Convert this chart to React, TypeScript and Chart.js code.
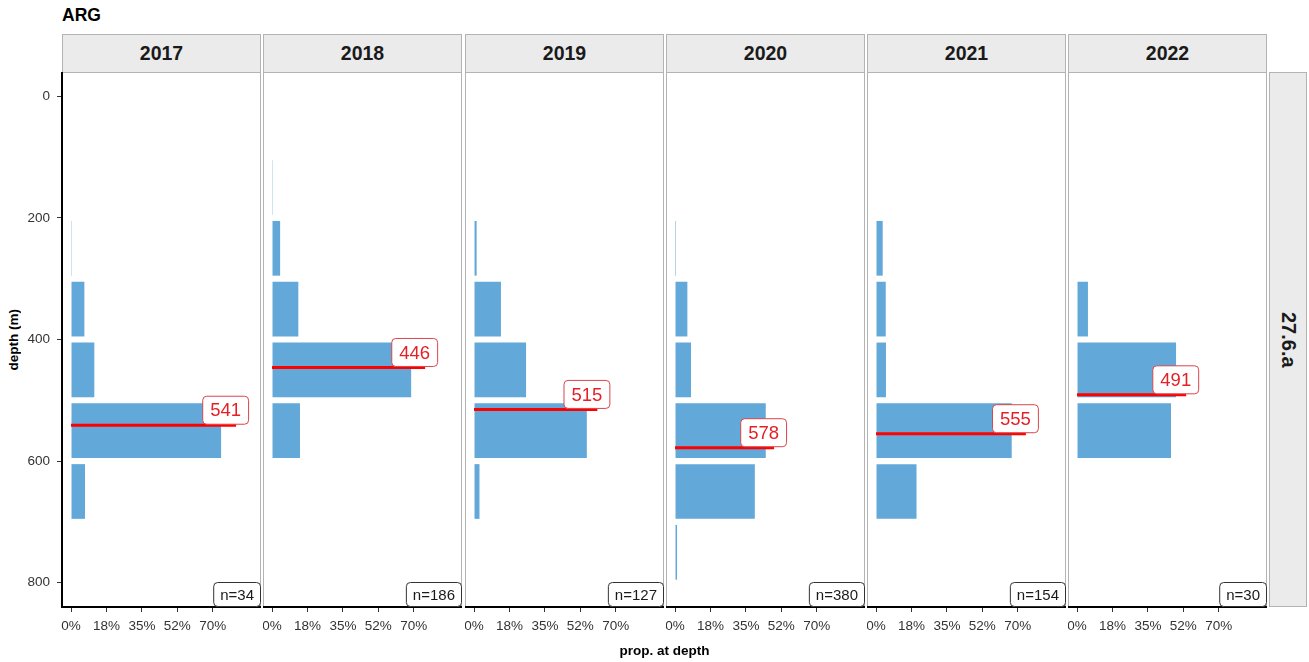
import React, { useEffect, useRef } from "react";
import { Chart, registerables } from "chart.js";

Chart.register(...registerables);

// ---------------- data ----------------
const countryLabel = "ARG";
const areaLabel = "27.6.a";
const years = ["2017", "2018", "2019", "2020", "2021", "2022"];
const depthBins = [150, 250, 350, 450, 550, 650, 750];
const prop2017 = [null, 0.004, 0.066, 0.115, 0.741, 0.069, null];
const prop2018 = [0.004, 0.04, 0.13, 0.687, 0.138, null, null];
const prop2019 = [null, 0.013, 0.133, 0.257, 0.557, 0.027, null];
const prop2020 = [null, 0.005, 0.061, 0.079, 0.448, 0.394, 0.01];
const prop2021 = [null, 0.033, 0.048, 0.049, 0.67, 0.2, null];
const prop2022 = [null, null, 0.054, 0.489, 0.464, null, null];
const meanDepth = [541, 446, 515, 578, 555, 491];
const meanLineEnd = [0.815, 0.756, 0.609, 0.489, 0.74, 0.539];
const sampleSize = [34, 186, 127, 380, 154, 30];
const xTickValues = [0, 0.175, 0.35, 0.525, 0.7];
const xTickLabels = ["0%", "18%", "35%", "52%", "70%"];
const yTickValues = [0, 200, 400, 600, 800];
const yTitle = "depth (m)";
const xTitle = "prop. at depth";

const propsByYear = [prop2017, prop2018, prop2019, prop2020, prop2021, prop2022];

// ---------------- style ----------------
const FONT = '"Liberation Sans", Arial, Helvetica, sans-serif';
const BAR_COLOR = "#62A8D8";
const PANEL_TOP = 72;
const PANEL_H = 535;
const PANEL_W = 199;
const CANVAS_H = 590;
const Y_AXIS_W = 62;

function roundRect(ctx: CanvasRenderingContext2D, x: number, y: number, w: number, h: number, r: number) {
  ctx.beginPath();
  ctx.moveTo(x + r, y);
  ctx.lineTo(x + w - r, y);
  ctx.arcTo(x + w, y, x + w, y + r, r);
  ctx.lineTo(x + w, y + h - r);
  ctx.arcTo(x + w, y + h, x + w - r, y + h, r);
  ctx.lineTo(x + r, y + h);
  ctx.arcTo(x, y + h, x, y + h - r, r);
  ctx.lineTo(x, y + r);
  ctx.arcTo(x, y, x + r, y, r);
  ctx.closePath();
}

function Panel({ index, left, withYAxis }: { index: number; left: number; withYAxis: boolean }) {
  const ref = useRef<HTMLCanvasElement>(null);
  const width = PANEL_W + (withYAxis ? Y_AXIS_W : 0);

  useEffect(() => {
    if (!ref.current) return;
    const props = propsByYear[index];
    const bars = depthBins
      .map((d, j) => (props[j] == null ? null : { x: props[j] as number, y: d }))
      .filter((p) => p !== null);

    const deco = {
      id: "panelDeco",
      beforeDraw(c: any) {
        const { ctx, chartArea: a } = c;
        ctx.save();
        ctx.strokeStyle = "#B3B3B3";
        ctx.lineWidth = 1;
        ctx.strokeRect(a.left + 0.5, a.top + 0.5, a.right - a.left - 1, a.bottom - a.top - 1);
        ctx.restore();
      },
      afterDatasetsDraw(c: any) {
        const { ctx, chartArea: a } = c;
        const meta = c.getDatasetMeta(0);
        const end = meta.data[meta.data.length - 1];
        ctx.save();
        // mean depth label
        ctx.font = `18.5px ${FONT}`;
        const txt = String(meanDepth[index]);
        const tw = ctx.measureText(txt).width;
        const w = tw + 15;
        const h = 28;
        const rx = end.x + 12 - w;
        const ry = end.y - 1.5 - h;
        roundRect(ctx, rx + 0.5, ry + 0.5, w, h, 4);
        ctx.fillStyle = "#FFFFFF";
        ctx.fill();
        ctx.strokeStyle = "#D9454A";
        ctx.lineWidth = 1;
        ctx.stroke();
        ctx.fillStyle = "#E41F26";
        ctx.textAlign = "center";
        ctx.textBaseline = "middle";
        ctx.fillText(txt, rx + w / 2 + 0.5, ry + h / 2 + 1.5);

        // n label
        ctx.font = `15px ${FONT}`;
        const nt = "n=" + sampleSize[index];
        const nw = ctx.measureText(nt).width + 13;
        const nh = 24;
        const nx = a.right - nw - 1;
        const ny = a.bottom - nh - 1;
        roundRect(ctx, nx + 0.5, ny + 0.5, nw, nh, 4);
        ctx.fillStyle = "#FFFFFF";
        ctx.fill();
        ctx.strokeStyle = "#333333";
        ctx.stroke();
        ctx.fillStyle = "#1A1A1A";
        ctx.fillText(nt, nx + nw / 2 + 0.5, ny + nh / 2 + 1.5);
        ctx.restore();
      },
    };

    const chart = new Chart(ref.current, {
      type: "bar",
      data: {
        datasets: [
          {
            type: "line",
            data: [
              { x: 0, y: meanDepth[index] },
              { x: meanLineEnd[index], y: meanDepth[index] },
            ],
            borderColor: "#FF0000",
            borderWidth: 3,
            pointRadius: 0,
            order: 0,
          } as any,
          {
            type: "bar",
            data: bars as any,
            backgroundColor: BAR_COLOR,
            borderWidth: 0,
            categoryPercentage: 1,
            barPercentage: 0.9,
            order: 1,
          } as any,
        ],
      },
      options: {
        indexAxis: "y",
        responsive: false,
        maintainAspectRatio: false,
        animation: false,
        layout: { padding: 0 },
        plugins: { legend: { display: false }, tooltip: { enabled: false }, title: { display: false } },
        scales: {
          x: {
            type: "linear",
            min: -0.0445,
            max: 0.938,
            offset: false,
            grid: {
              display: true,
              drawOnChartArea: false,
              drawTicks: true,
              tickLength: 5,
              tickColor: "#333333",
              tickWidth: 1,
            },
            border: { display: true, color: "#000000", width: 2 },
            ticks: {
              color: "#333333",
              font: { family: FONT, size: 13.5 },
              padding: 6,
              maxRotation: 0,
              autoSkip: false,
              callback: (v: any) => {
                const k = xTickValues.findIndex((t) => Math.abs(t - Number(v)) < 1e-9);
                return k >= 0 ? xTickLabels[k] : "";
              },
            },
            afterBuildTicks: (s: any) => {
              s.ticks = xTickValues.map((v) => ({ value: v }));
            },
            afterFit: (s: any) => {
              s.height = CANVAS_H - PANEL_H;
              s.paddingLeft = 0;
              s.paddingRight = 0;
            },
          },
          y: {
            type: "linear",
            reverse: true,
            min: -40,
            max: 840,
            offset: false,
            display: withYAxis,
            grid: {
              display: true,
              offset: false,
              drawOnChartArea: false,
              drawTicks: true,
              tickLength: 5,
              tickColor: "#333333",
              tickWidth: 1,
            },
            border: { display: true, color: "#000000", width: 2 },
            ticks: {
              color: "#333333",
              font: { family: FONT, size: 13.5 },
              padding: 7,
              autoSkip: false,
            },
            afterBuildTicks: (s: any) => {
              s.ticks = yTickValues.map((v) => ({ value: v }));
            },
            afterFit: (s: any) => {
              if (withYAxis) s.width = Y_AXIS_W;
              s.paddingTop = 0;
              s.paddingBottom = 0;
            },
          },
        },
      } as any,
      plugins: [deco],
    });
    return () => chart.destroy();
  }, [index, withYAxis]);

  return (
    <canvas
      ref={ref}
      width={width}
      height={CANVAS_H}
      style={{
        position: "absolute",
        left: withYAxis ? left - Y_AXIS_W : left,
        top: PANEL_TOP,
        width,
        height: CANVAS_H,
      }}
    />
  );
}

export default function App() {
  const panelLefts = years.map((_, i) => Math.round(62 + i * 201.26));
  return (
    <div
      style={{
        position: "fixed",
        left: 0,
        top: 0,
        width: 1309,
        height: 662,
        overflow: "hidden",
        background: "#FFFFFF",
        fontFamily: FONT,
        color: "#000",
      }}
    >
      <div
        style={{
          position: "absolute",
          left: 62,
          top: 5,
          height: 20,
          lineHeight: "20px",
          fontWeight: "bold",
          fontSize: 17.5,
        }}
      >
        {countryLabel}
      </div>

      {years.map((y, i) => (
        <div
          key={y}
          style={{
            position: "absolute",
            left: panelLefts[i],
            top: 34,
            width: PANEL_W,
            height: 39,
            boxSizing: "border-box",
            background: "#EBEBEB",
            border: "1px solid #B3B3B3",
            display: "flex",
            alignItems: "center",
            justifyContent: "center",
            fontWeight: "bold",
            fontSize: 19.5,
            color: "#1A1A1A",
          }}
        >
          {y}
        </div>
      ))}

      <div
        style={{
          position: "absolute",
          left: 1269,
          top: PANEL_TOP,
          width: 38,
          height: PANEL_H,
          boxSizing: "border-box",
          background: "#EBEBEB",
          border: "1px solid #B3B3B3",
          display: "flex",
          alignItems: "center",
          justifyContent: "center",
        }}
      >
        <span style={{ writingMode: "vertical-rl", fontWeight: "bold", fontSize: 20, color: "#1A1A1A" }}>
          {areaLabel}
        </span>
      </div>

      <div
        style={{
          position: "absolute",
          left: 2,
          top: PANEL_TOP,
          width: 22,
          height: PANEL_H,
          display: "flex",
          alignItems: "center",
          justifyContent: "center",
        }}
      >
        <span
          style={{
            writingMode: "vertical-rl",
            transform: "rotate(180deg)",
            fontWeight: "bold",
            fontSize: 13.5,
          }}
        >
          {yTitle}
        </span>
      </div>

      {years.map((y, i) => (
        <Panel key={y} index={i} left={panelLefts[i]} withYAxis={i === 0} />
      ))}

      <div
        style={{
          position: "absolute",
          left: 62,
          width: 1205,
          top: 643,
          height: 16,
          lineHeight: "16px",
          textAlign: "center",
          fontWeight: "bold",
          fontSize: 13.5,
        }}
      >
        {xTitle}
      </div>
    </div>
  );
}
